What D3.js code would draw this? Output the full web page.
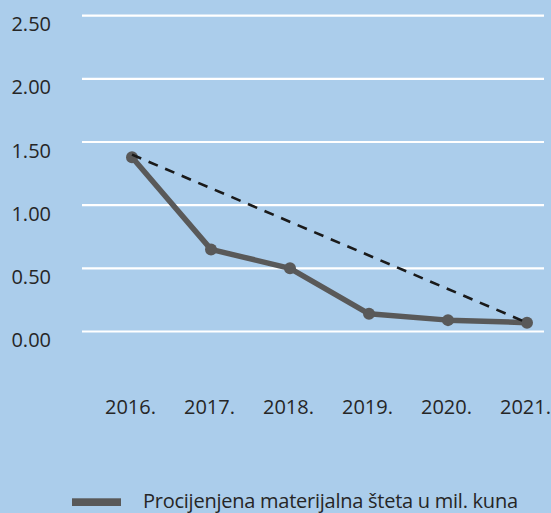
<!DOCTYPE html>
<html>
<head>
<meta charset="utf-8">
<script src="https://cdn.jsdelivr.net/npm/d3@7"></script>
<style>
  html, body { margin: 0; padding: 0; background: #abcdeb; }
  svg { display: block; }
  text { font-family: "Open Sans", "Noto Sans", sans-serif; fill: #262626; }
</style>
</head>
<body>
<svg id="chart" width="551" height="513"></svg>
<script>
const years = ["2016", "2017", "2018", "2019", "2020", "2021"];
const damage = [1.38, 0.65, 0.50, 0.14, 0.09, 0.07];
const trendYears = ["2016", "2021"];
const trendValues = [1.40, 0.07];
const yTicks = [0, 0.5, 1.0, 1.5, 2.0, 2.5];
const legendLabel = "Procijenjena materijalna šteta u mil. kuna";

const svg = d3.select("#chart");
svg.append("rect").attr("width", 551).attr("height", 513).attr("fill", "#abcdeb");

const x = d3.scalePoint().domain(years).range([132, 527]);
const y = d3.scaleLinear().domain([0, 2.5]).range([331.5, 15.7]);

// gridlines
svg.append("g").selectAll("line").data(yTicks).join("line")
  .attr("x1", 82).attr("x2", 544)
  .attr("y1", d => y(d)).attr("y2", d => y(d))
  .attr("stroke", "#ffffff").attr("stroke-width", 2.2);

// y labels
svg.append("g").selectAll("text").data(yTicks).join("text")
  .attr("x", 51).attr("y", d => y(d) + 15.5)
  .attr("text-anchor", "end")
  .attr("font-size", 20)
  .text(d => d3.format(".2f")(d));

// x labels
const xAxis = d3.axisBottom(x).tickSize(0).tickPadding(0).tickFormat(d => d + ".");
const gx = svg.append("g").attr("transform", "translate(-2,414)").call(xAxis);
gx.select(".domain").remove();
gx.selectAll("text").attr("font-size", 20).attr("dy", null).attr("y", 0)
  .attr("fill", "#262626")
  .style("font-family", '"Open Sans", "Noto Sans", sans-serif');

// main line
const line = d3.line().x((d, i) => x(years[i])).y(d => y(d));
svg.append("path").datum(damage)
  .attr("d", line).attr("fill", "none")
  .attr("stroke", "#595959").attr("stroke-width", 5.5)
  .attr("stroke-linejoin", "round");

svg.append("g").selectAll("circle").data(damage).join("circle")
  .attr("cx", (d, i) => x(years[i])).attr("cy", d => y(d))
  .attr("r", 6).attr("fill", "#595959");

// trend dashed line
const tline = d3.line().x((d, i) => x(trendYears[i])).y(d => y(d));
svg.append("path").datum(trendValues)
  .attr("d", tline).attr("fill", "none")
  .attr("stroke", "#1a1a1a").attr("stroke-width", 2.6)
  .attr("stroke-dasharray", "10,8");

// legend
svg.append("rect").attr("x", 72).attr("y", 498.3).attr("width", 49).attr("height", 7.7)
  .attr("fill", "#595959");
svg.append("text").attr("x", 143).attr("y", 508)
  .attr("font-size", 20).attr("letter-spacing", -0.25)
  .text(legendLabel);
</script>
</body>
</html>
